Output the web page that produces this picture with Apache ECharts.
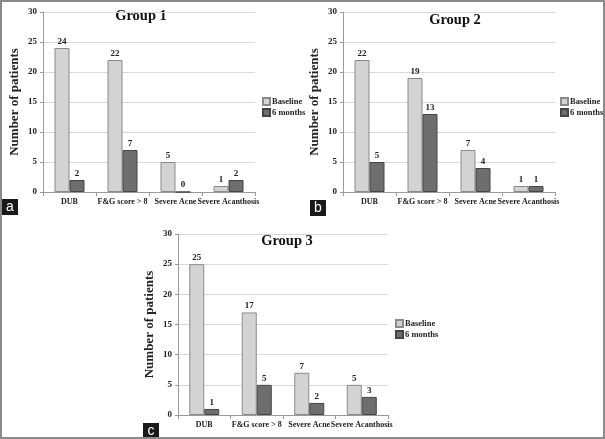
<!DOCTYPE html>
<html><head><meta charset="utf-8">
<script src="https://cdn.jsdelivr.net/npm/echarts@6/dist/echarts.min.js"></script>
<style>html,body{margin:0;padding:0;background:#fff}#c{width:605px;height:439px}</style>
</head><body><div id="c"></div>
<script>
const categories = ['DUB', 'F&G score > 8', 'Severe Acne', 'Severe Acanthosis'];
const seriesNames = ['Baseline', '6 months'];
const groupTitles = ['Group 1', 'Group 2', 'Group 3'];
const panelLetters = ['a', 'b', 'c'];
const g1Baseline = [24, 22, 5, 1];
const g1Months6 = [2, 7, 0, 2];
const g2Baseline = [22, 19, 7, 1];
const g2Months6 = [5, 13, 4, 1];
const g3Baseline = [25, 17, 7, 5];
const g3Months6 = [1, 5, 2, 3];
const yTicks = [0, 5, 10, 15, 20, 25, 30];

const groups = [[g1Baseline, g1Months6], [g2Baseline, g2Months6], [g3Baseline, g3Months6]];
const SERIF = '"Liberation Serif","Times New Roman",serif';
const panels = [
  {grid: {left: 43, top: 12, width: 212, height: 180}, title: [141, 16], legend: [262, 97], tag: [2, 199]},
  {grid: {left: 343, top: 12, width: 212, height: 180}, title: [455, 20], legend: [560, 97], tag: [310, 200]},
  {grid: {left: 178, top: 234, width: 210, height: 181}, title: [287, 241], legend: [395, 319], tag: [143, 423]}
];
const styles = [
  {color: '#d3d3d3', borderColor: '#8a8a8a', borderWidth: 1},
  {color: '#6e6e6e', borderColor: '#454545', borderWidth: 1}
];

const option = {
  animation: false,
  backgroundColor: '#fff',
  grid: panels.map(p => p.grid),
  xAxis: panels.map((p, i) => ({
    type: 'category', gridIndex: i, data: categories,
    axisLine: {lineStyle: {color: '#9a9a9a'}},
    axisTick: {show: true, length: 4, lineStyle: {color: '#9a9a9a'}},
    axisLabel: {interval: 0, fontFamily: SERIF, fontWeight: 'bold', fontSize: 8, color: '#222', margin: 6}
  })),
  yAxis: panels.map((p, i) => ({
    type: 'value', gridIndex: i, min: 0, max: 30, interval: 5,
    name: 'Number of patients', nameLocation: 'middle', nameGap: 22, nameRotate: 90,
    nameTextStyle: {fontFamily: SERIF, fontWeight: 'bold', fontSize: 13, color: '#222'},
    axisLine: {show: true, lineStyle: {color: '#9a9a9a'}},
    axisTick: {show: true, length: 3, lineStyle: {color: '#9a9a9a'}},
    axisLabel: {fontFamily: SERIF, fontWeight: 'bold', fontSize: 9, color: '#222', margin: 6,
      formatter: v => yTicks.includes(v) ? String(v) : ''},
    splitLine: {lineStyle: {color: '#d9d9d9'}}
  })),
  legend: panels.map(p => ({
    orient: 'vertical', left: p.legend[0], top: p.legend[1], padding: 0,
    data: seriesNames, icon: 'rect', itemWidth: 7, itemHeight: 7, itemGap: 2,
    textStyle: {fontFamily: SERIF, fontWeight: 'bold', fontSize: 8.5, color: '#222', padding: [0, 0, 0, -3]}
  })),
  series: [],
  graphic: []
};

groups.forEach((g, gi) => {
  g.forEach((vals, si) => {
    option.series.push({
      type: 'bar', name: seriesNames[si], xAxisIndex: gi, yAxisIndex: gi,
      data: vals, barWidth: 15, barGap: '0%',
      itemStyle: styles[si],
      label: {show: true, position: 'top', distance: 2, fontFamily: SERIF, fontWeight: 'bold', fontSize: 9, color: '#222'}
    });
  });
});

panels.forEach((p, i) => {
  option.graphic.push({
    type: 'text', x: p.title[0], y: p.title[1],
    style: {text: groupTitles[i], fontFamily: SERIF, fontWeight: 'bold', fontSize: 14.5, fill: '#111',
      textAlign: 'center', textVerticalAlign: 'middle'}
  });
  option.graphic.push({
    type: 'rect', shape: {x: p.tag[0], y: p.tag[1], width: 16, height: 16},
    style: {fill: '#1a1a1a'}
  });
  option.graphic.push({
    type: 'text', x: p.tag[0] + 8, y: p.tag[1] + 8,
    style: {text: panelLetters[i], fontFamily: 'Arial, "Liberation Sans", sans-serif', fontSize: 14, fill: '#fff',
      textAlign: 'center', textVerticalAlign: 'middle'}
  });
});
option.graphic.push({
  type: 'rect', shape: {x: 1, y: 1, width: 603, height: 437},
  style: {fill: null, stroke: '#8a8a8a', lineWidth: 2}, silent: true
});

const chart = echarts.init(document.getElementById('c'), null, {renderer: 'canvas'});
chart.setOption(option);
</script></body></html>
